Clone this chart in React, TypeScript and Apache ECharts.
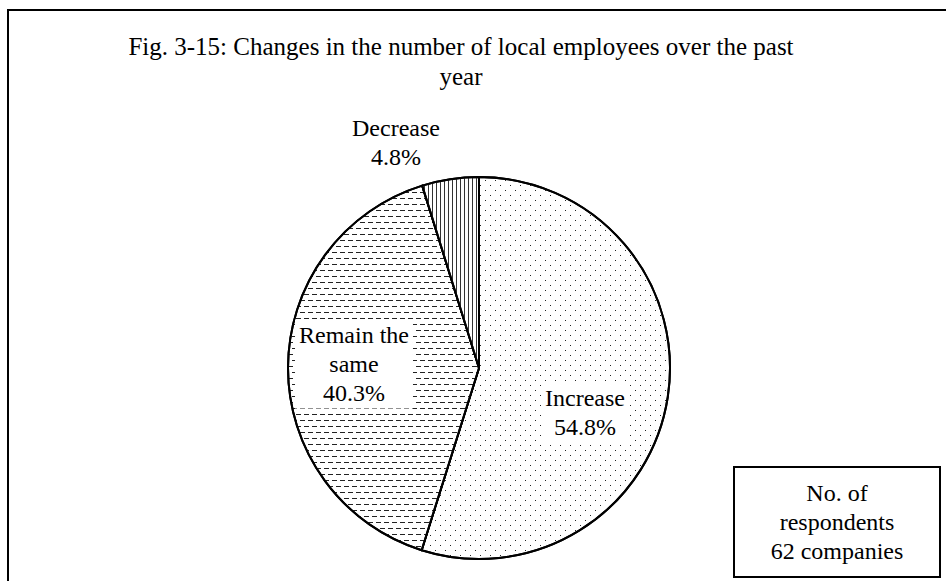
import React, { useEffect, useRef } from "react";
import * as echarts from "echarts";

const titleText = "Fig. 3-15: Changes in the number of local employees over the past\nyear";
const categories = ["Increase", "Remain the same", "Decrease"];
const labelNames = ["Increase", "Remain the\nsame", "Decrease"];
const values = [54.8, 40.3, 4.8];
const noteLines = ["No. of", "respondents", "62 companies"];

// label centres (x, y) in pixels
const labelCenters: [number, number][] = [
  [581, 412],
  [350, 364],
  [392, 142],
];

const FONT = "Liberation Serif";
const LINE_H = 29;

function textBlock(text: string, cx: number, cy: number, bg: boolean) {
  const n = text.split("\n").length;
  const padV = bg ? 1 : 0;
  return {
    text,
    left: cx,
    top: cy - (n * LINE_H) / 2 - padV,
    textAlign: "center",
    padding: bg ? [padV, 4] : 0,
    backgroundColor: bg ? "#fff" : "transparent",
    textStyle: {
      fontFamily: FONT,
      fontSize: 24,
      fontWeight: "normal",
      color: "#000",
      lineHeight: LINE_H,
    },
  };
}

const decalBase = {
  symbol: "rect",
  symbolSize: 1,
  symbolKeepAspect: false,
  backgroundColor: "#fff",
  rotation: 0,
};
const decals = [
  { ...decalBase, color: "#222", dashArrayX: [[1, 9], [0, 5, 1, 4]], dashArrayY: [1, 4] },
  { ...decalBase, color: "#222", dashArrayX: [[5, 3], [1, 3, 4, 0]], dashArrayY: [1, 5] },
  { ...decalBase, color: "#333", dashArrayX: [1, 3], dashArrayY: [4, 0] },
];

export default function App() {
  const ref = useRef<HTMLDivElement>(null);
  useEffect(() => {
    if (!ref.current) return;
    const chart = echarts.init(ref.current, null, { renderer: "svg" });

    const sliceLabels = categories.map((_, i) =>
      textBlock(
        `${labelNames[i]}\n${values[i].toFixed(1)}%`,
        labelCenters[i][0],
        labelCenters[i][1],
        true
      )
    );

    chart.setOption({
      animation: false,
      title: [
        {
          text: titleText,
          left: 456,
          top: 26,
          textAlign: "center",
          textStyle: {
            fontFamily: FONT,
            fontSize: 25,
            fontWeight: "normal",
            color: "#000",
            lineHeight: 30,
          },
        },
        ...sliceLabels,
        textBlock(noteLines.join("\n"), 837, 522, false),
      ],
      graphic: [
        {
          type: "rect",
          shape: { x: 8, y: 10, width: 960, height: 620 },
          style: { fill: "none", stroke: "#000", lineWidth: 2 },
          z: 0,
        },
        {
          type: "rect",
          shape: { x: 734, y: 467, width: 206, height: 110 },
          style: { fill: "#fff", stroke: "#000", lineWidth: 2 },
          z: 0,
        },
      ],
      series: [
        {
          type: "pie",
          silent: true,
          center: [479, 368],
          radius: 191,
          startAngle: 90,
          clockwise: true,
          label: { show: false },
          labelLine: { show: false },
          itemStyle: { color: "#fff", borderColor: "#000", borderWidth: 2 },
          emphasis: { disabled: true },
          data: categories.map((name, i) => ({
            name,
            value: values[i],
            itemStyle: { color: "#fff", decal: decals[i] },
          })),
        },
      ],
    });
    return () => chart.dispose();
  }, []);
  return (
    <div
      ref={ref}
      style={{ position: "absolute", left: 0, top: 0, width: 946, height: 581 }}
    />
  );
}
